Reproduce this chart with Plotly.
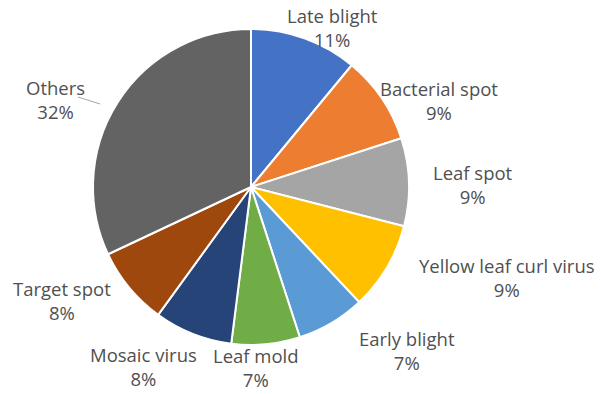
import plotly.graph_objects as go

labels = ["Late blight", "Bacterial spot", "Leaf spot", "Yellow leaf curl virus",
          "Early blight", "Leaf mold", "Mosaic virus", "Target spot", "Others"]
values = [11, 9, 9, 9, 7, 7, 8, 8, 32]
colors = ["#4472C4", "#ED7D31", "#A5A5A5", "#FFC000", "#5B9BD5",
          "#70AD47", "#264478", "#9E480E", "#636363"]

W, H = 601, 394
cx, cy, r = 251, 187, 158

# label anchor positions (pixels, centre of the two-line label)
label_pos = [(332, 28), (439, 101), (473, 184), (507, 277), (407, 350),
             (256, 367), (143, 366), (62, 300), (55, 99)]

fig = go.Figure(go.Pie(
    labels=labels, values=values, sort=False, direction="clockwise", rotation=0,
    marker=dict(colors=colors, line=dict(color="white", width=2)),
    textinfo="none", hoverinfo="label+percent",
    domain=dict(x=[(cx - r) / W, (cx + r) / W], y=[(H - cy - r) / H, (H - cy + r) / H]),
))

total = sum(values)
for lab, v, (px, py) in zip(labels, values, label_pos):
    fig.add_annotation(
        x=px / W, y=1 - py / H, xref="paper", yref="paper",
        text=f"{lab}<br>{round(100 * v / total)}%", showarrow=False,
        xanchor="center", yanchor="middle", align="center",
        font=dict(family="Open Sans", size=18.5, color="#505050"),
    )

fig.add_shape(type="line", xref="paper", yref="paper",
              x0=78 / W, y0=1 - 97 / H, x1=100 / W, y1=1 - 104 / H,
              line=dict(color="#a6a6a6", width=1))

fig.update_layout(width=W, height=H, margin=dict(l=0, r=0, t=0, b=0),
                  showlegend=False, paper_bgcolor="white")
fig.write_html("out.html")
